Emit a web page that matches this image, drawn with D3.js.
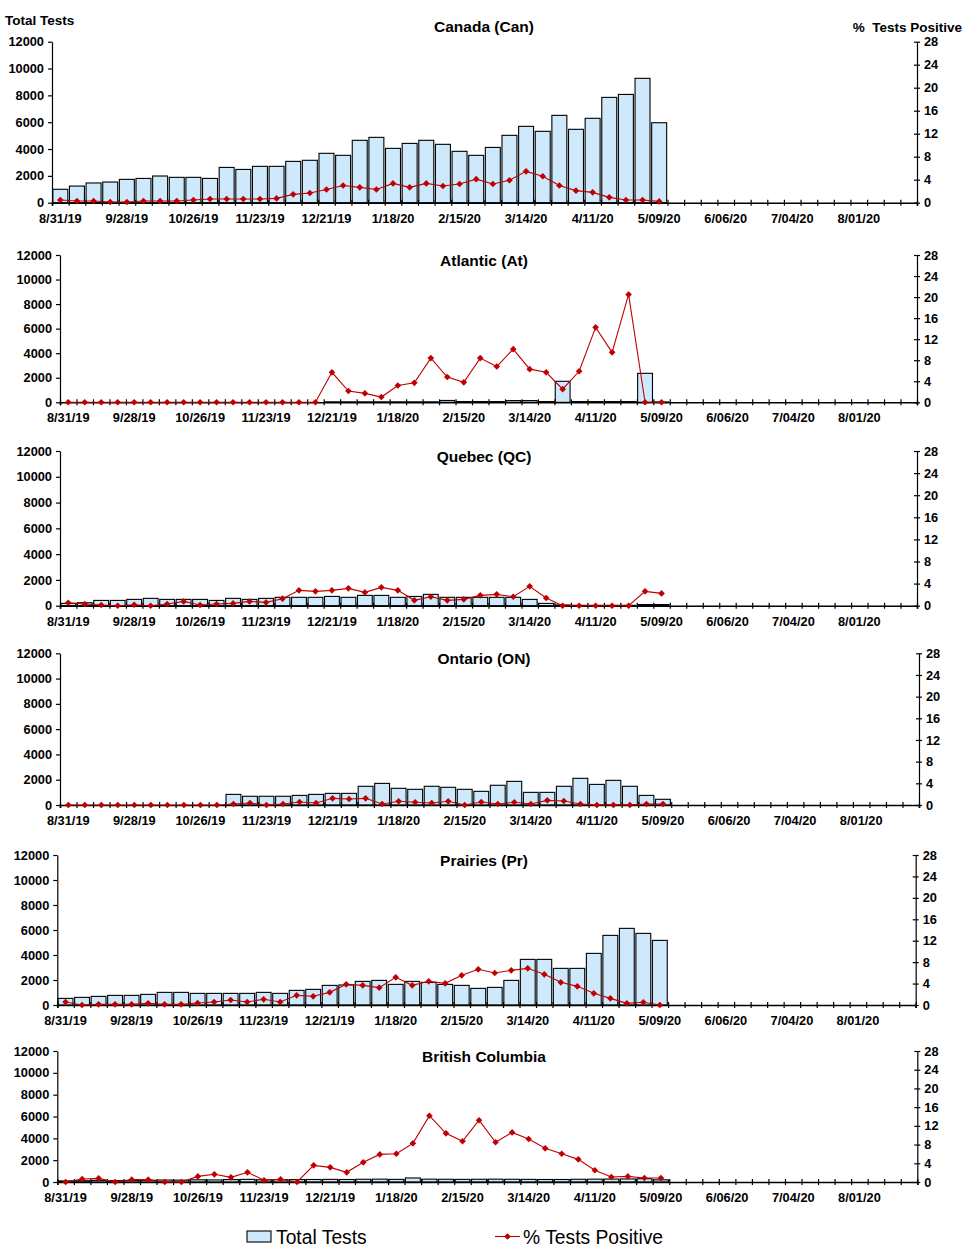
<!DOCTYPE html>
<html>
<head>
<meta charset="utf-8">
<script src="https://cdn.jsdelivr.net/npm/d3@7"></script>
<style>
  body { margin: 0; background: #fff; }
  svg { display: block; font-family: "Liberation Sans", Arial, sans-serif; }
</style>
</head>
<body>
<div id="chart"></div>
<script>
(function() {
  var weeks = d3.range(52);
  var tickLabels = ["8/31/19", "9/28/19", "10/26/19", "11/23/19", "12/21/19", "1/18/20",
    "2/15/20", "3/14/20", "4/11/20", "5/09/20", "6/06/20", "7/04/20", "8/01/20"];
  var testTicks = [0, 2000, 4000, 6000, 8000, 10000, 12000];
  var posTicks = [0, 4, 8, 12, 16, 20, 24, 28];

  // weekly total tests and % positive
  var canTests = [1000, 1240, 1470, 1540, 1740, 1810, 1990, 1890, 1890, 1810, 2630, 2480, 2710, 2710,
    3080, 3160, 3680, 3530, 4650, 4870, 4050, 4420, 4650, 4350, 3830, 3530, 4120, 5020, 5690, 5320,
    6510, 5470, 6290, 7850, 8070, 9270, 5960];
  var canPos = [0.46, 0.29, 0.29, 0.12, 0.12, 0.29, 0.29, 0.29, 0.46, 0.64, 0.64, 0.64, 0.64, 0.75,
    1.45, 1.68, 2.3, 3.0, 2.67, 2.3, 3.36, 2.67, 3.36, 2.9, 3.25, 4.1, 3.25, 3.9, 5.45, 4.6, 3.0,
    2.1, 1.8, 0.93, 0.46, 0.46, 0.23];

  var atTests = [0, 0, 0, 0, 0, 0, 0, 0, 0, 0, 0, 0, 0, 0, 0, 0, 40, 40, 40, 40, 40, 40, 40, 150,
    60, 60, 60, 140, 140, 60, 1710, 60, 60, 60, 60, 2360, 30];
  var atPos = [0, 0, 0, 0, 0, 0, 0, 0, 0, 0, 0, 0, 0, 0, 0, 0, 5.7, 2.15, 1.7, 1.0, 3.2, 3.7, 8.4,
    4.8, 3.8, 8.4, 6.8, 10.1, 6.3, 5.7, 2.5, 5.9, 14.25, 9.5, 20.5, 0, 0];

  var qcTests = [180, 230, 410, 410, 490, 570, 490, 490, 490, 410, 570, 490, 570, 650, 650, 650,
    720, 650, 800, 800, 650, 720, 880, 650, 650, 650, 650, 650, 490, 180, 60, 30, 30, 30, 30, 90, 90];
  var qcPos = [0.54, 0.3, 0.12, 0, 0.18, 0, 0.3, 0.78, 0.12, 0.3, 0.42, 0.78, 0.6, 1.27, 2.78, 2.6,
    2.78, 3.14, 2.41, 3.32, 2.78, 0.97, 1.63, 0.97, 1.15, 1.87, 2.05, 1.63, 3.5, 1.39, 0, 0, 0, 0,
    0, 2.6, 2.23];

  var onTests = [0, 0, 0, 0, 0, 0, 0, 0, 0, 0, 840, 690, 690, 690, 760, 840, 920, 920, 1480, 1710,
    1320, 1240, 1480, 1400, 1240, 1080, 1560, 1870, 1000, 1000, 1480, 2110, 1630, 1950, 1480, 760, 450];
  var onPos = [0, 0, 0, 0, 0, 0, 0, 0, 0, 0, 0.18, 0.37, 0, 0.18, 0.55, 0.37, 1.23, 1.1, 1.23, 0.18,
    0.68, 0.5, 0.37, 0.68, 0, 0.55, 0.18, 0.5, 0.18, 0.86, 0.74, 0.18, 0, 0, 0, 0.18, 0.18];

  var prTests = [530, 610, 690, 770, 770, 850, 1010, 1010, 930, 930, 930, 930, 1010, 930, 1170, 1250,
    1570, 1600, 1890, 1970, 1650, 1890, 1810, 1650, 1570, 1330, 1410, 1970, 3650, 3650, 2930, 2930,
    4130, 5570, 6130, 5730, 5170];
  var prPos = [0.56, 0, 0.12, 0.12, 0.12, 0.31, 0.12, 0.12, 0.37, 0.56, 0.93, 0.56, 1.06, 0.56, 1.8,
    1.62, 2.36, 3.86, 3.67, 3.24, 5.16, 3.67, 4.42, 4.04, 5.54, 6.66, 5.97, 6.47, 6.84, 5.72, 4.23,
    3.48, 2.18, 1.24, 0.31, 0.5, 0];

  var bcTests = [100, 120, 150, 130, 140, 160, 180, 170, 200, 190, 220, 240, 200, 210, 220, 230, 240,
    230, 250, 260, 240, 370, 260, 250, 240, 250, 260, 250, 240, 230, 230, 250, 260, 270, 280, 300, 200];
  var bcPos = [0, 0.64, 0.78, 0, 0.5, 0.5, 0, 0, 1.2, 1.64, 1.0, 2.07, 0.36, 0.57, 0, 3.56, 3.13,
    2.07, 4.2, 5.9, 6.05, 8.26, 14.17, 10.4, 8.7, 13.2, 8.5, 10.6, 9.2, 7.2, 6.05, 4.84, 2.5, 1.07,
    1.2, 0.85, 0.85];

  var panels = [
    { title: "Canada (Can)", tests: canTests, pos: canPos, left: 52, right: 917, top: 41.7, bottom: 202.7, titleY: 32 },
    { title: "Atlantic (At)", tests: atTests, pos: atPos, left: 60, right: 917, top: 255, bottom: 402.3, titleY: 266 },
    { title: "Quebec (QC)", tests: qcTests, pos: qcPos, left: 60, right: 917, top: 451, bottom: 605.7, titleY: 462 },
    { title: "Ontario (ON)", tests: onTests, pos: onPos, left: 60, right: 919, top: 653.3, bottom: 805, titleY: 664 },
    { title: "Prairies (Pr)", tests: prTests, pos: prPos, left: 57.3, right: 915.7, top: 855, bottom: 1005, titleY: 866 },
    { title: "British Columbia", tests: bcTests, pos: bcPos, left: 57.3, right: 917.3, top: 1051, bottom: 1182, titleY: 1062 }
  ];

  var barFill = "#cde9fb", red = "#c00000";
  var font = "'Liberation Sans', Arial, sans-serif";
  var svg = d3.select("#chart").append("svg").attr("width", 970).attr("height", 1259);

  svg.append("text").attr("x", 5).attr("y", 25).attr("font-size", 13.5).attr("font-weight", "bold")
    .text("Total Tests");
  svg.append("text").attr("x", 962).attr("y", 32).attr("text-anchor", "end").attr("font-size", 13.5)
    .attr("font-weight", "bold").attr("xml:space", "preserve").text("%  Tests Positive");

  var diamond = d3.symbol().type(d3.symbolSquare).size(22);

  panels.forEach(function(p) {
    var g, x, xb, yL, yR, bw, line;
    g = svg.append("g");
    x = d3.scaleBand().domain(weeks).range([p.left, p.right]).paddingInner(0.1).paddingOuter(0.05);
    xb = d3.scaleLinear().domain([0, 52]).range([p.left, p.right]);
    yL = d3.scaleLinear().domain([0, 12000]).range([p.bottom, p.top]);
    yR = d3.scaleLinear().domain([0, 28]).range([p.bottom, p.top]);
    bw = x.bandwidth();

    g.selectAll("rect.bar").data(p.tests).enter().append("rect").attr("class", "bar")
      .attr("x", function(d, i) { return x(i); })
      .attr("y", function(d) { return yL(d); })
      .attr("width", bw)
      .attr("height", function(d) { return p.bottom - yL(d); })
      .style("fill", barFill).style("stroke", "#000").style("stroke-width", 1.1);

    // x axis: boundary ticks crossing the axis, labels every 4 weeks
    g.append("g").attr("transform", "translate(0," + p.bottom + ")")
      .call(d3.axisBottom(xb).tickValues(d3.range(53)).tickSizeOuter(0).tickSize(3).tickFormat(""))
      .call(function(a) {
        a.select(".domain").attr("stroke-width", 1.6);
        a.selectAll(".tick line").attr("y1", -3).attr("y2", 3).attr("stroke-width", 1.2);
      });
    g.append("g").attr("transform", "translate(0," + p.bottom + ")")
      .call(d3.axisBottom(x).tickValues(weeks.filter(function(w) { return w % 4 === 0; }))
        .tickSize(0).tickFormat(function(w) { return tickLabels[w / 4]; }))
      .call(function(a) {
        a.select(".domain").remove();
        a.selectAll("text").attr("dy", 0).attr("y", 20).attr("font-size", 12.8)
          .attr("font-weight", "bold").attr("fill", "#000").attr("font-family", font);
      });

    g.append("g").attr("transform", "translate(" + p.left + ",0)")
      .call(d3.axisLeft(yL).tickValues(testTicks).tickFormat(d3.format("d"))
        .tickSize(4).tickSizeOuter(0).tickPadding(4))
      .call(function(a) {
        a.selectAll("text").attr("font-size", 12.8).attr("font-weight", "bold").attr("fill", "#000")
          .attr("font-family", font);
        a.selectAll("line").attr("stroke-width", 1.2);
        a.select(".domain").attr("stroke-width", 1.2);
      });

    g.append("g").attr("transform", "translate(" + p.right + ",0)")
      .call(d3.axisRight(yR).tickValues(posTicks).tickSize(3).tickSizeOuter(0).tickPadding(4))
      .call(function(a) {
        a.selectAll(".tick line").attr("x1", -3).attr("x2", 3).attr("stroke-width", 1.2);
        a.selectAll("text").attr("font-size", 12.8).attr("font-weight", "bold").attr("fill", "#000")
          .attr("font-family", font);
        a.select(".domain").attr("stroke-width", 1.2);
      });

    line = d3.line().x(function(d, i) { return x(i) + bw / 2; }).y(function(d) { return yR(d); });
    g.append("path").datum(p.pos).attr("d", line).style("fill", "none").style("stroke", red)
      .style("stroke-width", 1.1);
    g.selectAll("path.mk").data(p.pos).enter().append("path").attr("class", "mk")
      .attr("d", diamond)
      .attr("transform", function(d, i) {
        return "translate(" + (x(i) + bw / 2) + "," + yR(d) + ") rotate(45)";
      })
      .style("fill", red);

    g.append("text").attr("x", 484).attr("y", p.titleY).attr("text-anchor", "middle")
      .attr("font-size", 15.5).attr("font-weight", "bold").text(p.title);
  });

  // legend
  var lg = svg.append("g");
  lg.append("rect").attr("x", 247).attr("y", 1231).attr("width", 24).attr("height", 11)
    .style("fill", barFill).style("stroke", "#000").style("stroke-width", 1.1);
  lg.append("text").attr("x", 276).attr("y", 1243.5).attr("font-size", 19.3).text("Total Tests");
  lg.append("line").attr("x1", 495).attr("x2", 520).attr("y1", 1236.5).attr("y2", 1236.5)
    .style("stroke", red).style("stroke-width", 1.1);
  lg.append("path").attr("d", diamond).attr("transform", "translate(507.5,1236.5) rotate(45)")
    .style("fill", red);
  lg.append("text").attr("x", 523).attr("y", 1243.5).attr("font-size", 19.3).text("% Tests Positive");
}).call(this);
</script>
</body>
</html>
